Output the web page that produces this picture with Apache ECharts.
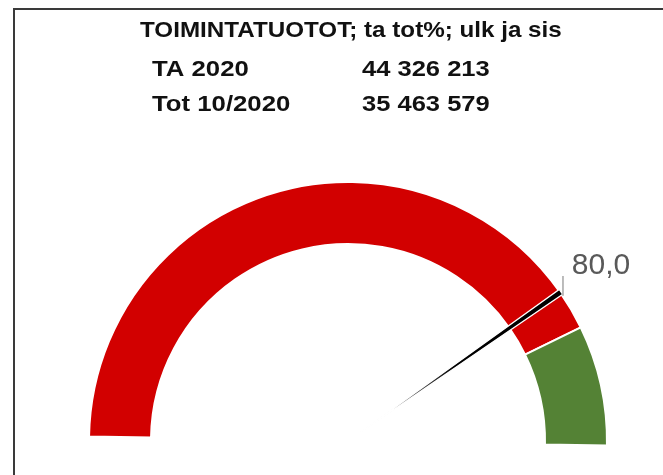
<!DOCTYPE html>
<html>
<head>
<meta charset="utf-8">
<script src="https://cdn.jsdelivr.net/npm/echarts@6/dist/echarts.min.js"></script>
<style>
  html, body { margin: 0; padding: 0; background: #fff; }
  #frame { position: absolute; left: 13px; top: 8px; width: 700px; height: 500px;
           border-top: 2px solid #3a3a3a; border-left: 2px solid #3a3a3a; }
  #gauge { position: absolute; left: 0; top: 0; width: 663px; height: 475px; }
</style>
</head>
<body>
<div id="frame"></div>
<div id="gauge"></div>
<script>
// otsikko ja tunnusluvut
const chartTitle = 'TOIMINTATUOTOT; ta tot%; ulk ja sis'
const infoLabels = ['TA 2020', 'Tot 10/2020']
const infoValues = ['44 326 213', '35 463 579']

// mittarin kaari (%), punainen / punainen / vihreä
const bandNames = ['Toteuma', 'Ero', 'Tavoitealue']
const bandValues = [80, 5, 15]
// neula (tot %)
const needleValue = [80.0]

const bandColors = ['#d20000', '#d20000', '#548235']
const font = '"Liberation Sans", Arial, sans-serif'
const center = [348, 441]
const rIn = 197
const rOut = 259
const startAng = 179
const endAng = -1

var myChart = echarts.init(document.getElementById('gauge'))

// leader line of the value label, from the needle tip straight up
const a = (startAng - needleValue[0] / 100 * (startAng - endAng)) * Math.PI / 180
const tipX = center[0] + (rOut + 1) * Math.cos(a)
const tipY = center[1] - (rOut + 1) * Math.sin(a)

// the source text is a bit wider than the font, stretch it slightly
const texts = [{
  type: 'text', left: 140, top: 20, scaleX: 1.1,
  style: { text: chartTitle, font: 'bold 22px ' + font, fill: '#111' }
}]
infoLabels.forEach(function (lab, i) {
  texts.push({ type: 'text', left: 152, top: 59 + i * 35, scaleX: 1.17, style: { text: lab, font: 'bold 22px ' + font, fill: '#111' } })
  texts.push({ type: 'text', left: 362, top: 59 + i * 35, scaleX: 1.16, style: { text: infoValues[i], font: 'bold 22px ' + font, fill: '#111' } })
})
texts.push({
  type: 'line',
  shape: { x1: tipX + 2, y1: tipY + 4, x2: tipX + 2, y2: 276 },
  style: { stroke: '#a6a6a6', lineWidth: 1.5 },
  z: 20
})

var option = {
  backgroundColor: 'transparent',
  animation: false,
  graphic: texts,
  series: [
    {
      type: 'pie',
      z: 1,
      center: center,
      radius: [rIn, rOut],
      startAngle: startAng,
      endAngle: endAng,
      clockwise: true,
      silent: true,
      label: { show: false },
      labelLine: { show: false },
      itemStyle: { borderColor: '#fff', borderWidth: 2 },
      data: bandValues.map(function (v, i) {
        return { name: bandNames[i], value: v, itemStyle: { color: bandColors[i] } }
      })
    },
    {
      type: 'gauge',
      z: 10,
      center: center,
      radius: rOut + 1,
      startAngle: startAng,
      endAngle: endAng,
      min: 0,
      max: 100,
      axisLine: { show: false },
      splitLine: { show: false },
      axisTick: { show: false },
      axisLabel: { show: false },
      anchor: { show: false },
      title: { show: false },
      pointer: {
        icon: 'path://M0,0L10,0L5,100Z',
        length: '100%',
        width: 6,
        offsetCenter: [0, 0],
        itemStyle: {
          color: {
            type: 'linear', x: 0, y: 0, x2: 0, y2: 1,
            colorStops: [
              { offset: 0, color: '#000' },
              { offset: 0.5, color: '#000' },
              { offset: 0.9, color: 'rgba(0,0,0,0.25)' },
              { offset: 1, color: 'rgba(0,0,0,0)' }
            ]
          },
          borderColor: '#fff',
          borderWidth: 1.2
        }
      },
      detail: {
        offsetCenter: [253, -175],
        formatter: function (v) { return v.toFixed(1).replace('.', ',') },
        fontFamily: font,
        fontSize: 30,
        fontWeight: 'normal',
        color: '#595959'
      },
      data: [{ value: needleValue[0], name: 'Tot %' }]
    }
  ]
}
myChart.setOption(option)
</script>
</body>
</html>
